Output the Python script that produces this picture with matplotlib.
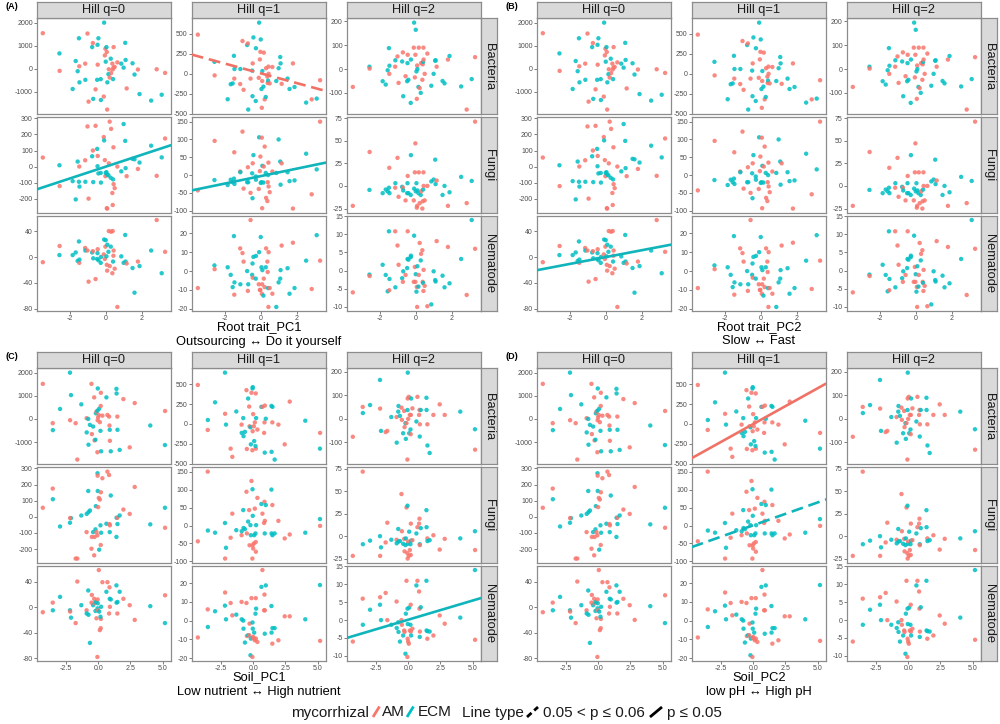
import matplotlib
matplotlib.use("Agg")
import matplotlib.pyplot as plt
from matplotlib.lines import Line2D
import numpy as np

plt.rcParams['font.family'] = ['Liberation Sans', 'DejaVu Sans']

# ---------------- data ----------------
taxa = ['Bacteria', 'Fungi', 'Nematode']
hill = ['Hill q=0', 'Hill q=1', 'Hill q=2']

# Root trait panels (A, B share the same points)
rt_x = [-3.54, -2.61, -2.60, -1.87, -1.70, -1.59, -1.52, -1.50, -1.49, -1.17,
        -1.16, -1.04, -0.98, -0.78, -0.74, -0.72, -0.59, -0.50, -0.48, -0.47,
        -0.43, -0.30, -0.29, -0.13, -0.11, -0.07, -0.04, -0.02, 0.02, 0.04,
        0.06, 0.07, 0.13, 0.15, 0.20, 0.26, 0.28, 0.35, 0.37, 0.39,
        0.41, 0.42, 0.48, 0.63, 0.85, 0.98, 1.07, 1.09, 1.15, 1.48,
        1.59, 1.78, 1.87, 2.52, 2.83, 3.11, 3.30]
rt_group = "AEAEEEEAEA" "EAAEAEAEEA" "EEEAEAAEEA" "AEEAAEAAAE" "AAAAEEEEAE" "EAEEAEA"

rt_bac_q0 = [1540, 660, -100, -890, 330, -115, 1320, 100, -600, 215,
             -490, 1525, -1440, 935, 1110, -1320, -905, -490, 1035, 170,
             1320, -460, -1370, -1220, 2000, 575, 865, 300, 935, 720,
             -1785, -600, -245, -30, -390, 430, -200, 215, -40, -460,
             40, 935, 70, 270, 215, 40, 1120, 375, -865, 230,
             -260, -40, -1110, -1395, -30, -1140, -190]
rt_bac_q1 = [490, 150, -20, -318, -130, -120, 225, -60, 60, -128,
             60, 410, -200, 360, 380, -447, -60, 40, -280, 130,
             455, -340, 320, -50, 640, 180, 275, 430, -190, -425,
             -90, 35, -160, 265, -320, -290, 70, -35, -115, -85,
             90, 0, -120, 85, -90, 70, 210, 130, -125, -60,
             -190, 130, -165, -360, -320, -310, -80]
rt_bac_q2 = [-75, 10, 2, -51, -65, -5, 88, -20, 14, 10,
             37, 53, -58, 32, 70, -114, -30, -51, 25, 60,
             -45, -142, 40, 90, 195, -35, 60, 165, -10, -125,
             15, 0, -75, 90, -80, -100, 25, -45, 20, 30,
             90, 40, -20, 65, -70, -20, 35, 37, 10, -50,
             -60, 40, 55, -73, -170, -42, 50]
rt_fun_q0 = [56, 8, -122, -91, -205, 31, -95, 0, -125, 39,
             -95, 250, -200, 64, 100, -97, 254, 110, 2, 66,
             -43, -40, -100, 184, 163, 40, -60, -40, -35, -260,
             -262, -50, -55, 20, 280, -70, 235, -165, -240, -80,
             120, -110, -135, 0, -30, 265, 160, -10, -60, 48,
             45, -15, 25, 130, -58, 57, 175]
rt_fun_q1 = [-43, -14, 96, -28, -13, -20, -10, 64, -25, 10,
             8, 122, -38, -20, 22, -20, -50, 5, -65, 33,
             56, -4, -13, -39, 106, 11, 52, -22, -20, 105,
             -93, 26, -21, 24, 80, 6, -64, -73, -20, 0,
             35, -32, -48, 10, 6, 100, 38, -27, 33, 8,
             -17, -94, -15, 60, -54, 16, 150]
rt_fun_q2 = [-22, -4.4, 37.5, -8, -4, -6, -2, 20, -8, -2,
             3, 31, -12, -1, -2, -5, -16, -8, 3, 11,
             -8, -10, 34, -16, -3, 15, 47, -6, 3, -24,
             -22, -5, -8, 15, -19, -10, -6, -25, -17, -4,
             15, 0, -16, 0, 5, 7, 29, 2, 6, -10,
             0, -22, -7, 10, -19, 5.5, 71]
rt_nem_q0 = [-8, 3, 17, 3, 7, -6, 24, -9, -4, 14,
             10, 10, -38, 7, 9, -2, -34, -3, 6, 12,
             -5, -9, 0, 4, 27, -3, 16, 26, 1, -12,
             -21, 19, 8, 40, -14, 16, 39, -25, 40, -7,
             2, 10, -18, -77, 1, -9, 34, -7, -10, -17,
             -55, -7, -14, 10, 57, -25, 8]
rt_nem_q1 = [-9, 3, 1, 2, -2, -8.5, 18.5, -12.5, -6, 12,
             -7, 9.5, 5, 0, -10.5, -7, 27, -2, 4, -3.5,
             7.5, -4, 8, -7, 10, -10, -10, 18, 2, -12,
             -7, 0.5, -13, -4, -8.5, 2, 12, 5, -0.5, -9,
             -19, 10, -9, -12, -19, -6, -4, 0.5, 13.5, 1.5,
             -12, 15, -9, 5.5, -9.5, 19, 5.5]
rt_nem_q2 = [-6, -1.1, -1.5, 1.6, -1.2, -5.7, 10.8, -5.4, -2.3, 10.8,
             -4.6, 6.9, 1.6, -2.1, -3.1, -0.2, -1.2, 0.7, 3.2, 10.8,
             3, 3.7, 4.1, -3.1, 9.6, 1, -3.1, -1, -5.8, -4.5,
             -10, 1.2, -4.4, -1.2, 7.6, 2.8, 4.6, 5.6, -3.1, -3.4,
             -5.6, 0.2, -4.2, -9.8, -9.3, -0.2, -2.6, -3, 8.1, -1.4,
             -4.6, 6.5, -3.5, 3.2, -6.7, 13.9, 6]

# Soil panels (C, D share the same points)
sl_x = [-4.30, -3.53, -3.52, -2.96, -2.19, -2.11, -2.18, -1.75, -1.62, -1.31,
        -0.90, -0.89, -0.77, -0.75, -0.64, -0.52, -0.49, -0.39, -0.31, -0.28,
        -0.21, -0.18, -0.13, -0.05, -0.04, -0.06, -0.03, 0.00, 0.05, 0.08,
        0.13, 0.20, 0.21, 0.18, 0.23, 0.33, 0.64, 0.72, 0.90, 0.85,
        0.91, 0.88, 0.98, 1.42, 1.43, 1.49, 1.50, 1.67, 1.96, 2.45,
        2.84, 4.05, 5.20, 5.19]
sl_group = "AAEEEEAAAE" "AEEEEAAEAA" "EEAEAAEAAE" "AAAEEAEAEA" "AAEEEAEEAA" "AEAE"

sl_bac_q0 = [1515, -185, -485, 430, 2000, 1030, -57, -185, -1757, 630,
             30, -585, 0, -1115, -257, 1515, -657, -330, 930, -930,
             -900, 243, 315, 357, -57, -1440, 1315, 70, 170, 440,
             -140, 560, 1130, -515, -1400, 140, 930, 170, -470, 100,
             -945, -285, -1400, 1300, 1100, 100, -470, -1340, 857, -1230,
             685, -285, 343, -1130]
sl_bac_q1 = [490, -75, 50, 272, 645, -8, 128, -310, -413, 157,
             -8, -112, 74, -153, -99, 425, -314, 320, 219, -29,
             -41, -256, 392, 446, -91, -330, 463, 124, -29, -215,
             20, 384, -310, -277, 74, -70, 215, 215, -360, -112,
             231, 20, 66, 227, -350, 20, 215, -447, -8, -256,
             281, 41, -112, -310]
sl_bac_q2 = [-76, 51, 25, 59, 166, -51, 44, -56, -51, 8,
             8, -101, 31, 55, 13, 48, -4, -61, 34, -35,
             -18, -85, -18, 38, 87, -173, 197, 0, 94, -61,
             17, -65, 17, -45, 87, 45, -11, 94, -75, 17,
             -23, 38, 38, 90, 38, -23, -113, -145, 17, 62,
             17, 31, -131, -44]
sl_fun_q0 = [56, 175, 109, -60, -37, -8, -8, -259, -259, 8,
             -95, 18, 160, 29, 39, -198, -125, -95, -239, -125,
             -78, 66, -95, 270, 255, -115, 160, 60, 117, -204,
             107, -175, 152, -53, -99, 239, -43, 280, -95, 259,
             -53, -45, 132, -125, -6, -6, -45, 8, 45, 18,
             185, -47, -68, 56]
sl_fun_q1 = [-44, 150, -14, -20, 7, -62, -92, -34, 33, -13,
             -27, -16, 43, -7, -10, 94, -22, 11, 43, -55,
             1, -27, 124, 101, -55, -92, 27, -64, -50, -27,
             47, -46, -73, -22, 1, 77, 60, 33, -22, 7,
             13, 66, 57, 100, -22, 57, -27, -22, 13, -36,
             -25, -20, -1, 18]
sl_fun_q2 = [-22, 72, -9, -5, 0, -12.5, -22, -7, 15, -4,
             -4, -8, 8, -6, -5.5, 47, 5.5, -8.5, -3, -17,
             -10, -2.5, 32, 34, -25, -19, -8.5, -6, -22, 5,
             -15.5, -21, 14, -9, -5, -4.5, 3, 10, -9, 14,
             -10, 19.5, 9, 29, 10, -2.5, -5.5, -4.5, 1, -15,
             -3, -2.5, -15.5, 5.5]
sl_nem_q0 = [-8, 7, -5, 16, -5, -16.5, -7, -25, 40, 3,
             -5, -10, 26, -12, -56, 7, 19, 3, 13, 6,
             -6, 8, -17.5, -2, 12, -78, 6, -5, 58, -7,
             -36, -33, -18.5, -15, 0.5, 39, 24, 39, 13, -10,
             0.5, 31, 12, 34, 7, -10, 8, 24, 13, 3,
             -20, 1.5, 18.5, -25]
sl_nem_q1 = [-9, 6, -3.4, 5, 8, 0.7, 15, 9.4, 2.8, 3.2,
             10, 0.7, 0, -4.3, -11.7, 9.4, -8.2, -7.8, -7.8, -1.6,
             -18.5, -9.6, 12, -1, -9.2, -19.4, -4.3, -8.7, -9.6, -6.4,
             -10.5, 12, -9.6, 3.7, 6.4, -11.4, 18, 27, -7, 5.5,
             5.5, 13.9, 18.8, 7.8, -6.4, -12.3, -4, -4, -10.5, 2.3,
             2.3, 0.7, -10.8, 19]
sl_nem_q2 = [-6, 6, -1.3, 2.9, 4.3, 0, 6.4, 7.6, 0, -1.3,
             5.2, -2.2, -0.6, -3.3, -6, 0, -1.3, -4.3, -2.9, -3.3,
             -9.4, 1.8, 11, 3.2, -5.2, -10.3, -1.1, -6, -6.6, 3.5,
             -2.9, 4.3, -3.2, -1.3, -4.3, -2.4, 9.7, 11, -4.7, 8,
             -3.2, 3.2, 3.6, 11, -2.9, -5.2, -3.1, -3.2, -4.3, 1.3,
             -1, 0.7, -5.5, 14]

# y tick values per (taxon row, hill column)
yticks_grid = [[[-1000, 0, 1000, 2000], [-500, -250, 0, 250, 500], [-100, 0, 100, 200]],
               [[-200, -100, 0, 100, 200, 300], [-100, -50, 0, 50, 100, 150], [-25, 0, 25, 50, 75]],
               [[-80, -40, 0, 40], [-20, -10, 0, 10, 20], [-10, -5, 0, 5, 10, 15]]]
rt_xticks = [-2, 0, 2]
rt_xticklabels = ['-2', '0', '2']
sl_xticks = [-2.5, 0.0, 2.5, 5.0]
sl_xticklabels = ['-2.5', '0.0', '2.5', '5.0']

# fitted lines: (row, col, group, intercept, slope, dashed)
fits_A = [(0, 1, 'A', 5.0, -60.7, True), (1, 0, 'E', 0.0, 36.7, False), (1, 1, 'E', -2.7, 10.4, False)]
fits_B = [(2, 0, 'E', 0.0, 5.25, False)]
fits_C = [(2, 2, 'E', 0.11, 1.07, False)]
fits_D = [(0, 1, 'A', -1.0, 89.8, False), (1, 1, 'E', 0.6, 12.7, True)]

xlabels = {'A': ('Root trait_PC1', 'Outsourcing \u2194 Do it yourself'),
           'B': ('Root trait_PC2', 'Slow \u2194 Fast'),
           'C': ('Soil_PC1', 'Low nutrient \u2194 High nutrient'),
           'D': ('Soil_PC2', 'low pH \u2194 High pH')}

# ---------------- drawing ----------------
W, H = 1000, 724
fig = plt.figure(figsize=(10, 7.24), dpi=100)
fig.patch.set_facecolor('white')

def fx(x):
    return x / W

def fy(y):
    return 1 - y / H

AM_COL = '#F8766D'
ECM_COL = '#00BFC4'
GCOL = {'A': AM_COL, 'E': ECM_COL}
LCOL = {'A': '#F07266', 'E': '#10B4BB'}
BORDER = '#8C8C8C'

COL_L = [36.7, 191.7, 346.7]
COL_W = 134.5
ROW_T = [18.3, 117.3, 215.7]
ROW_H = 95.6
STRIP_T = 1.7
STRIP_H = 16.6
RSTRIP_L = 481.2
RSTRIP_W = 16.1

rt_grid = [[rt_bac_q0, rt_bac_q1, rt_bac_q2],
           [rt_fun_q0, rt_fun_q1, rt_fun_q2],
           [rt_nem_q0, rt_nem_q1, rt_nem_q2]]
sl_grid = [[sl_bac_q0, sl_bac_q1, sl_bac_q2],
           [sl_fun_q0, sl_fun_q1, sl_fun_q2],
           [sl_nem_q0, sl_nem_q1, sl_nem_q2]]


def style_box(ax):
    for sp in ax.spines.values():
        sp.set_color(BORDER)
        sp.set_linewidth(0.9)


def draw_panel(ox, oy, tag, xs, grp, ygrid, xticks, xticklabels, fits):
    xs = np.asarray(xs, float)
    xlo, xhi = xs.min(), xs.max()
    xp = 0.05 * (xhi - xlo)
    xlim = (xlo - xp, xhi + xp)
    colors = [GCOL[g] for g in grp]
    for r in range(3):
        for c in range(3):
            ys = np.asarray(ygrid[r][c], float)
            ax = fig.add_axes([fx(ox + COL_L[c]), fy(oy + ROW_T[r] + ROW_H),
                               COL_W / W, ROW_H / H])
            ax.scatter(xs, ys, c=colors, s=10, alpha=0.85, linewidths=0, zorder=2)
            ylo, yhi = ys.min(), ys.max()
            yp = 0.05 * (yhi - ylo)
            for (fr, fc, fg, a, b, dashed) in fits:
                if fr == r and fc == c:
                    xx = np.array(xlim)
                    kw = dict(color=LCOL[fg], lw=1.9, zorder=3, solid_capstyle='butt')
                    if dashed:
                        kw['dashes'] = (4.5, 2.2)
                    ax.plot(xx, a + b * xx, **kw)
            ax.set_xlim(xlim)
            ax.set_ylim(ylo - yp, yhi + yp)
            ax.set_yticks(yticks_grid[r][c])
            ax.set_yticklabels([str(v) for v in yticks_grid[r][c]])
            ax.set_xticks(xticks)
            ax.set_xticklabels(xticklabels)
            ax.tick_params(axis='both', length=2, width=0.6, color='#666666',
                           labelsize=5, labelcolor='#4D4D4D', pad=0.8)
            if r < 2:
                ax.tick_params(axis='x', bottom=False, labelbottom=False)
            style_box(ax)
            if r == 0:
                sa = fig.add_axes([fx(ox + COL_L[c]), fy(oy + STRIP_T + STRIP_H),
                                   COL_W / W, STRIP_H / H])
                sa.set_facecolor('#D9D9D9')
                sa.set_xticks([]); sa.set_yticks([])
                style_box(sa)
                sa.text(0.5, 0.47, hill[c], ha='center', va='center',
                        fontsize=9.2, color='#1A1A1A', transform=sa.transAxes)
            if c == 2:
                ra = fig.add_axes([fx(ox + RSTRIP_L), fy(oy + ROW_T[r] + ROW_H),
                                   RSTRIP_W / W, ROW_H / H])
                ra.set_facecolor('#D9D9D9')
                ra.set_xticks([]); ra.set_yticks([])
                style_box(ra)
                ra.text(0.5, 0.5, taxa[r], ha='center', va='center', rotation=270,
                        fontsize=9.3, color='#1A1A1A', transform=ra.transAxes)
    fig.text(fx(ox + 12), fy(oy + 6.8), '(' + tag + ')', fontsize=6.5,
             fontweight='bold', ha='center', va='center')
    l1, l2 = xlabels[tag]
    fig.text(fx(ox + 259), fy(oy + 327.5), l1, ha='center', va='center', fontsize=9.3)
    fig.text(fx(ox + 259), fy(oy + 341.5), l2, ha='center', va='center', fontsize=9.3)


draw_panel(0, 0, 'A', rt_x, rt_group, rt_grid, rt_xticks, rt_xticklabels, fits_A)
draw_panel(500, 0, 'B', rt_x, rt_group, rt_grid, rt_xticks, rt_xticklabels, fits_B)
draw_panel(0, 350, 'C', sl_x, sl_group, sl_grid, sl_xticks, sl_xticklabels, fits_C)
draw_panel(500, 350, 'D', sl_x, sl_group, sl_grid, sl_xticks, sl_xticklabels, fits_D)

# ---------------- bottom legend ----------------
LY = 716.5
def ltext(x, s):
    fig.text(fx(x), fy(LY), s, ha='left', va='baseline', fontsize=11, color='#1A1A1A')

def lkey(x0, y0, x1, y1, color, dashed=False, lw=2.0):
    kw = dict(color=color, lw=lw, transform=fig.transFigure, solid_capstyle='butt')
    if dashed:
        kw['dashes'] = (2.2, 1.3)
    fig.add_artist(Line2D([fx(x0), fx(x1)], [fy(y0), fy(y1)], **kw))

ltext(291, 'mycorrhizal')
lkey(373, 717, 379.5, 706.5, AM_COL)
ltext(382, 'AM')
lkey(407, 717, 413.5, 706.5, ECM_COL)
ltext(418, 'ECM')
ltext(462, 'Line type')
lkey(527, 717, 538, 707, 'black', dashed=True)
ltext(543, '0.05 < p \u2264 0.06')
lkey(650, 717, 662, 707, 'black')
ltext(667, 'p \u2264 0.05')

fig.savefig('out.png', dpi=100, facecolor='white')
